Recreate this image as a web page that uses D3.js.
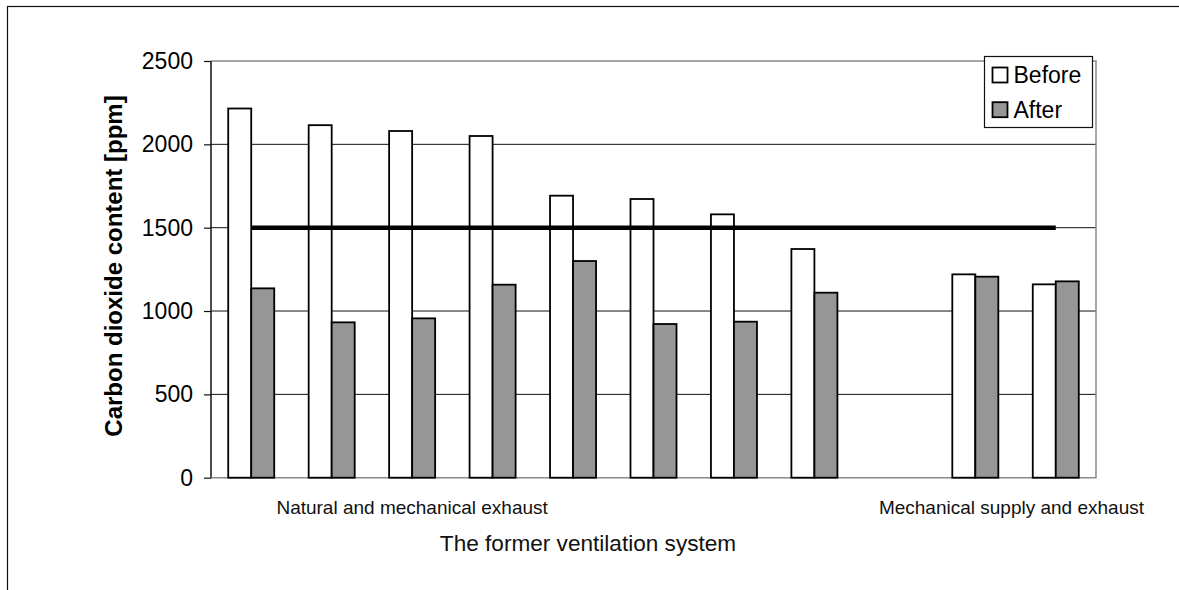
<!DOCTYPE html>
<html>
<head>
<meta charset="utf-8">
<script src="https://cdn.jsdelivr.net/npm/d3@7"></script>
<style>
  html, body { margin: 0; padding: 0; background: #fff; }
  svg { display: block; font-family: "Liberation Sans", Arial, sans-serif; }
</style>
</head>
<body>
<svg id="chart" width="1179" height="590"></svg>
<script>
// chart values
const categories = ["N1", "N2", "N3", "N4", "N5", "N6", "N7", "N8", "gap", "M1", "M2"];
const seriesNames = ["Before", "After"];
const beforeValues = [2215, 2115, 2080, 2050, 1692, 1672, 1580, 1372, null, 1220, 1160];
const afterValues = [1136, 932, 956, 1158, 1300, 922, 936, 1110, null, 1206, 1178];
const limitValue = 1500;
const yTickValues = [0, 500, 1000, 1500, 2000, 2500];
const groupLabels = ["Natural and mechanical exhaust", "Mechanical supply and exhaust"];
const groupLabelCats = ["N3", "M2"];
const yTitle = "Carbon dioxide content [ppm]";
const xTitle = "The former ventilation system";

// layout
const plot = { left: 211, right: 1096, top: 61, bottom: 477.7 };
const chartArea = { left: 7, right: 1169 };
const colors = { Before: "#ffffff", After: "#969696" };

const svg = d3.select("#chart");

// outer frame (only top + left visible)
svg.append("rect").attr("x", 7.5).attr("y", 6.5).attr("width", 1300).attr("height", 700)
    .attr("fill", "none").attr("stroke", "#111").attr("stroke-width", 1.2);

const x = d3.scaleBand().domain(categories).range([plot.left, plot.right]).padding(0);
const y = d3.scaleLinear().domain([0, 2500]).range([plot.bottom, plot.top]);
const bw = x.bandwidth();
const barW = bw * 0.286;
const xSub = d3.scaleBand().domain(seriesNames).range([bw / 2 - barW, bw / 2 + barW]).padding(0);

// gridlines
svg.append("g").selectAll("line").data(yTickValues.filter(v => v > 0 && v < 2500)).join("line")
    .attr("x1", plot.left).attr("x2", plot.right)
    .attr("y1", d => y(d)).attr("y2", d => y(d))
    .attr("stroke", "#111").attr("stroke-width", 1);

// plot frame (gray top/right/bottom)
svg.append("path")
    .attr("d", `M${plot.left},${plot.top}H${plot.right}V${plot.bottom}H${plot.left}`)
    .attr("fill", "none").attr("stroke", "#8a8a8a").attr("stroke-width", 1.5);

// bars
const rows = categories.map((c, i) => ({ cat: c, Before: beforeValues[i], After: afterValues[i] }));
const groups = svg.append("g").selectAll("g").data(rows).join("g")
    .attr("transform", d => `translate(${x(d.cat)},0)`);
groups.selectAll("rect").data(d => seriesNames.filter(s => d[s] != null).map(s => ({ key: s, value: d[s] })))
    .join("rect")
    .attr("x", d => xSub(d.key)).attr("width", xSub.bandwidth())
    .attr("y", d => y(d.value)).attr("height", d => y(0) - y(d.value))
    .attr("fill", d => colors[d.key]).attr("stroke", "#000").attr("stroke-width", 1.8);

// limit line from first to last category centre
const limitPts = [categories[0], categories[categories.length - 1]].map(c => [x(c) + bw / 2, y(limitValue)]);
svg.append("path").attr("d", d3.line()(limitPts))
    .attr("stroke", "#000").attr("stroke-width", 4.5).attr("fill", "none");

// y axis
const yAxis = d3.axisLeft(y).tickValues(yTickValues).tickFormat(d3.format("d")).tickSize(7).tickPadding(11);
const yg = svg.append("g").attr("transform", `translate(${plot.left},0)`).call(yAxis);
yg.select(".domain").attr("stroke", "#111").attr("stroke-width", 1.5).attr("d", `M0,${plot.top}V${plot.bottom}`);
yg.selectAll(".tick line").attr("stroke", "#111").attr("stroke-width", 1.2);
yg.selectAll(".tick text").attr("font-size", 23).attr("fill", "#000")
    .attr("font-family", "Liberation Sans, Arial, sans-serif");

// y title
svg.append("text").attr("transform", `translate(122,266) rotate(-90)`)
    .attr("text-anchor", "middle").attr("font-size", 24).attr("font-weight", "bold").text(yTitle);

// group labels under the axis, kept inside the chart area like Excel does
svg.append("g").selectAll("text").data(groupLabels).join("text")
    .attr("x", (d, i) => x(groupLabelCats[i]) + bw / 2)
    .attr("y", 513.5).attr("text-anchor", "middle").attr("font-size", 19).attr("fill", "#111")
    .text(d => d)
    .each(function () {
        const w = this.getComputedTextLength();
        const cx = +this.getAttribute("x");
        const maxRight = chartArea.right - 25;
        if (cx + w / 2 > maxRight) this.setAttribute("x", maxRight - w / 2);
    });

// x title, centred on the chart area
svg.append("text").attr("x", (chartArea.left + chartArea.right) / 2).attr("y", 551).attr("text-anchor", "middle")
    .attr("font-size", 22.6).attr("fill", "#111").text(xTitle);

// legend
const lg = svg.append("g").attr("transform", "translate(984.5,56.5)");
lg.append("rect").attr("width", 108).attr("height", 71)
    .attr("fill", "#fff").attr("stroke", "#111").attr("stroke-width", 1.2);
const li = lg.selectAll("g").data(seriesNames).join("g")
    .attr("transform", (d, i) => `translate(8,${11 + i * 34.7})`);
li.append("rect").attr("width", 15).attr("height", 15)
    .attr("fill", d => colors[d]).attr("stroke", "#000").attr("stroke-width", 1.8);
li.append("text").attr("x", 21).attr("y", 15.5).attr("font-size", 23).attr("fill", "#000").text(d => d);
</script>
</body>
</html>
